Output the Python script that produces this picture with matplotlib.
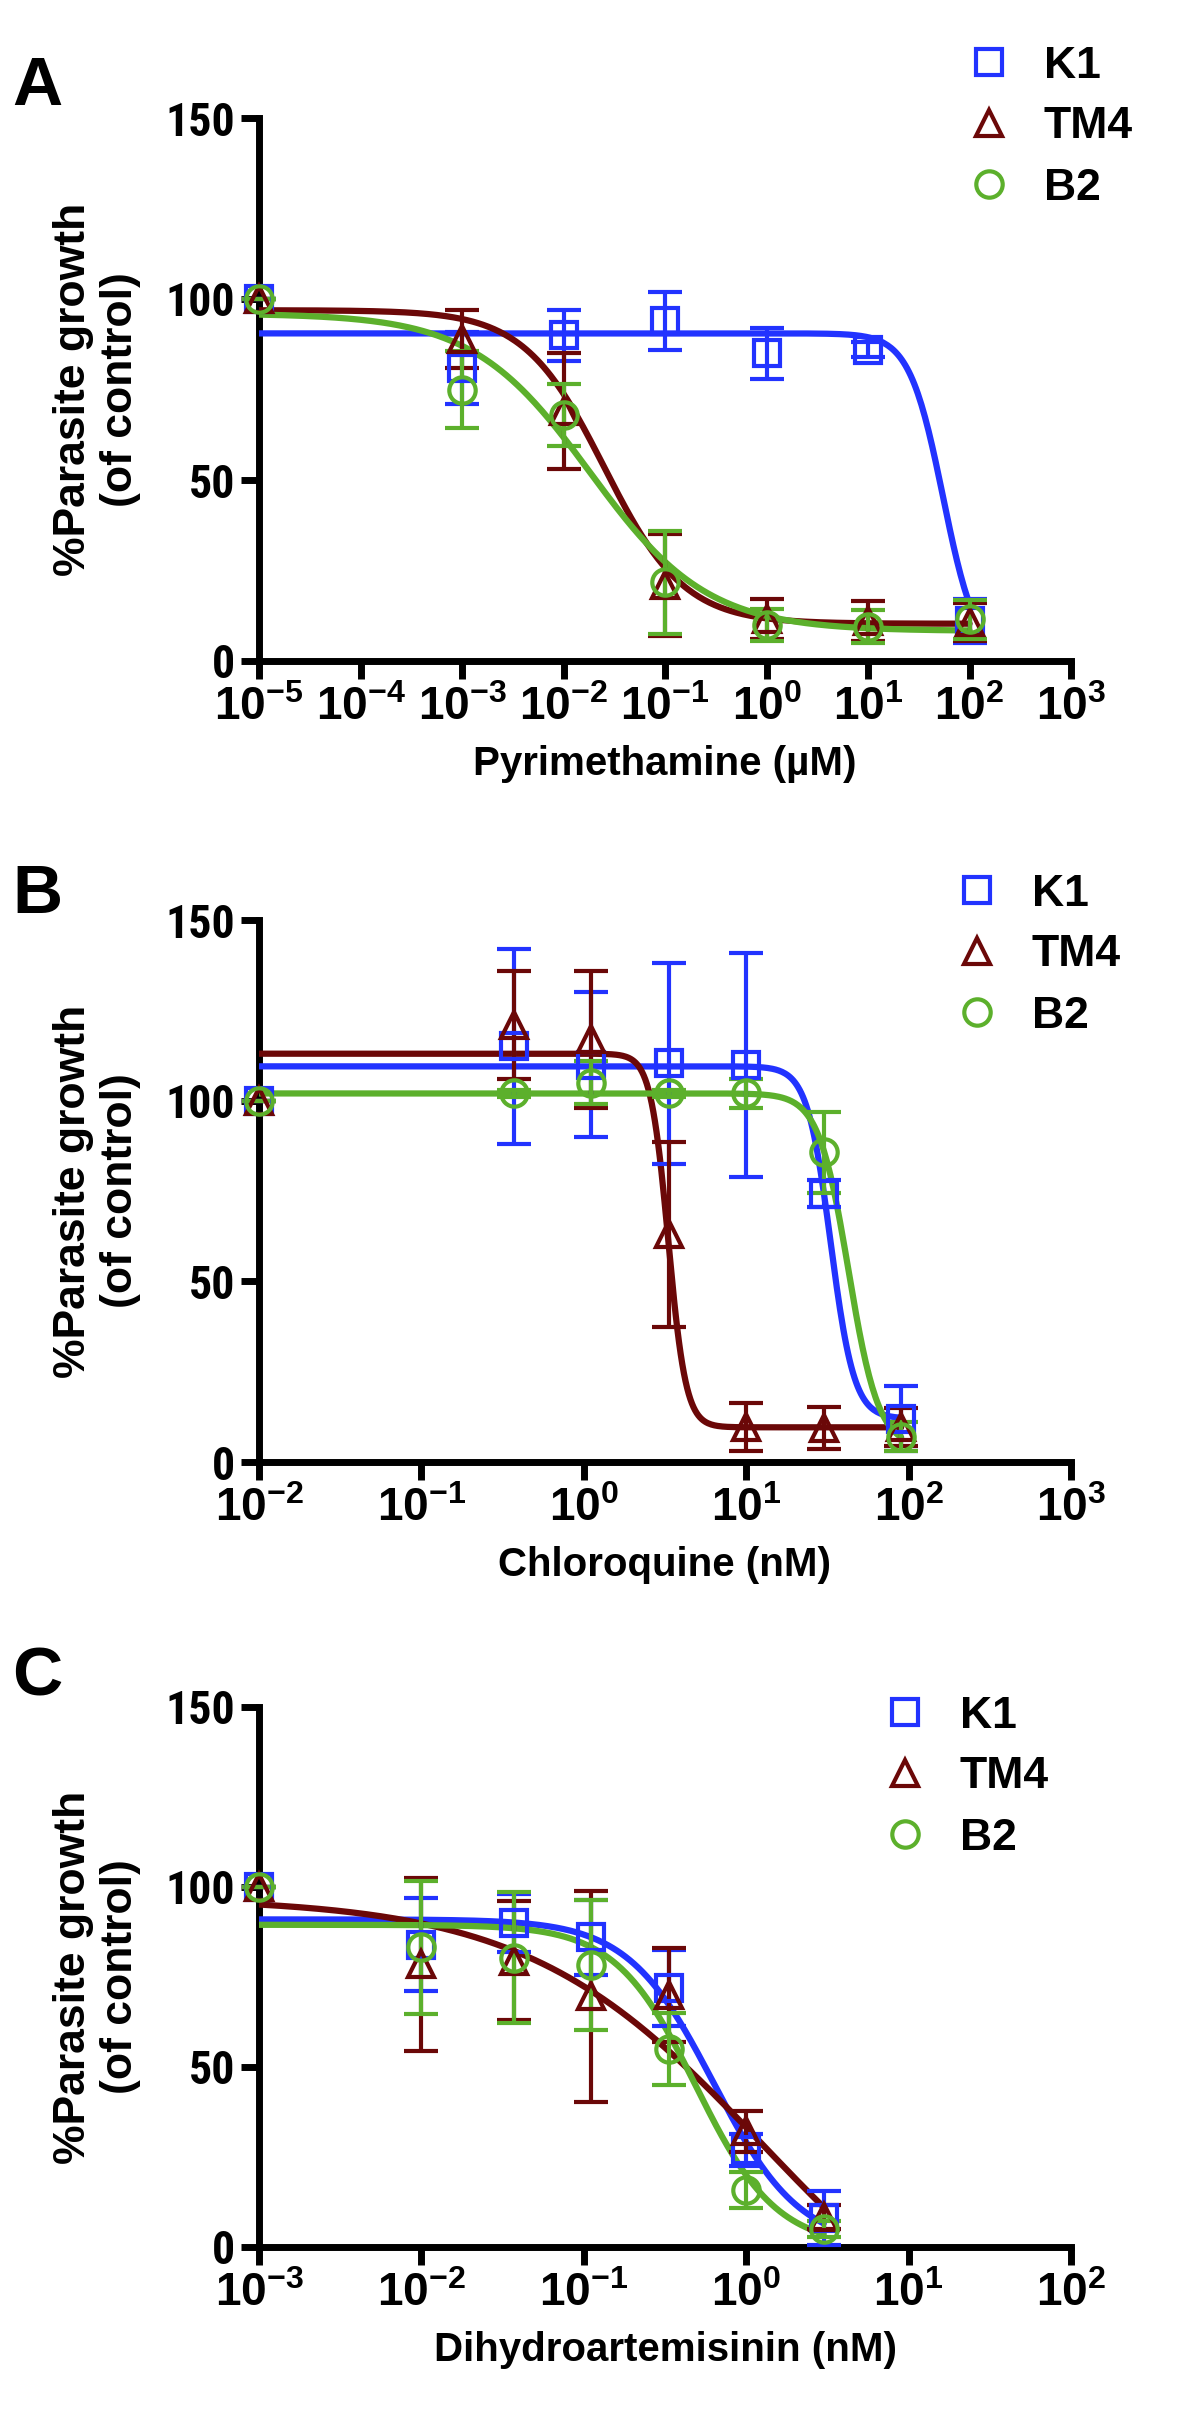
import numpy as np
import matplotlib
matplotlib.use("Agg")
import matplotlib.pyplot as plt
from matplotlib.ticker import LogLocator, NullLocator, FuncFormatter
from matplotlib.lines import Line2D

## fonts ##
narrow = 'Roboto Condensed'   # closest installed match to the narrow bold tick font
plt.rcParams['font.family'] = ['Liberation Sans', 'DejaVu Sans']
plt.rcParams['font.weight'] = 'bold'
plt.rcParams['mathtext.fontset'] = 'custom'
plt.rcParams['mathtext.rm'] = narrow + ':bold'
plt.rcParams['mathtext.default'] = 'regular'

## data ##
strains = ['K1', 'TM4', 'B2']
colors = ['#2233ff', '#6b0808', '#5cb02c']
markers = ['s', '^', 'o']

# panel A - pyrimethamine (uM)
pyr_x = [1e-5, 1e-3, 1e-2, 1e-1, 1, 10, 100]
pyr_k1 = [100, 81, 90, 94, 85, 86, 11]
pyr_k1_err = [0, 10, 7, 8, 7, 2, 6]
pyr_tm4 = [100, 89, 69, 21, 11.5, 11, 10.8]
pyr_tm4_err = [0, 8, 16, 14, 5.5, 5.5, 5.2]
pyr_b2 = [100, 75, 68, 21.7, 10, 9.5, 11.5]
pyr_b2_err = [0, 10.5, 8.5, 14.2, 4.5, 4.5, 5.3]
# fitted curves: top, bottom, logIC50, hill
pyr_fit = [(90.5, 0, 1.74, 2.6), (96.9, 10.3, -1.6, 1.1), (96, 8.3, -1.74, 0.75)]

# panel B - chloroquine (nM)
cq_x = [0.01, 0.37, 1.11, 3.33, 10, 30, 90]
cq_k1 = [100, 115, 110, 110.3, 110, 74.3, 12]
cq_k1_err = [0, 27, 20, 27.7, 31, 3.7, 9]
cq_tm4 = [100, 121, 117, 63, 9.7, 9.4, 9.6]
cq_tm4_err = [0, 15, 19, 25.5, 6.6, 5.9, 5.3]
cq_b2 = [100, 102, 105, 102, 102, 85.7, 7]
cq_b2_err = [0, 1, 6, 1, 4, 11.3, 4]
cq_fit = [(109.5, 12, 1.52, 6), (113, 9.6, 0.52, 8), (102, 4, 1.63, 4.7)]

# panel C - dihydroartemisinin (nM)
dha_x = [0.001, 0.01, 0.037, 0.111, 0.333, 1, 3]
dha_k1 = [100, 84, 90, 86, 72, 27, 8]
dha_k1_err = [0, 13, 8, 10.5, 10.5, 4.5, 7.5]
dha_tm4 = [100, 78.5, 79.5, 69.7, 70, 32.1, 8.3]
dha_tm4_err = [0, 24, 16.5, 29.3, 13, 5.6, 3.3]
dha_b2 = [100, 83.2, 80.4, 78.4, 54.9, 15.8, 4.9]
dha_b2_err = [0, 18.4, 18.1, 18, 10, 4.9, 2.2]
dha_fit = [(91, 0, -0.2, 1.64), (97, -40, 0.1, 0.6), (89.5, 0, -0.31, 1.75)]

panels = [
    ('A', 'Pyrimethamine (\u00b5M)', pyr_x, [pyr_k1, pyr_tm4, pyr_b2],
     [pyr_k1_err, pyr_tm4_err, pyr_b2_err], pyr_fit, (1e-5, 1e3), 100),
    ('B', 'Chloroquine (nM)', cq_x, [cq_k1, cq_tm4, cq_b2],
     [cq_k1_err, cq_tm4_err, cq_b2_err], cq_fit, (1e-2, 1e3), 90),
    ('C', 'Dihydroartemisinin (nM)', dha_x, [dha_k1, dha_tm4, dha_b2],
     [dha_k1_err, dha_tm4_err, dha_b2_err], dha_fit, (1e-3, 1e2), 3),
]

## layout (pixels of the 1200x2419 figure) ##
W, H = 1200, 2419
ax_left, ax_right = 259, 1071
ax_tops = [118, 920, 1707]
ax_bots = [661, 1462, 2247]
letter_base = [105, 913, 1695]
legend_pos = [(968, 127), (956, 955), (884, 1777)]


def four_pl(x, top, bottom, logic50, hill):
    return bottom + (top - bottom) / (1 + 10 ** (hill * (np.log10(x) - logic50)))


def tick_fmt(v, pos):
    e = int(round(np.log10(v)))
    return r'$\mathregular{10^{%d}}$' % e


fig = plt.figure(figsize=(W / 100, H / 100), dpi=100)

for i, (letter, xlabel, xs, means, errs, fits, xlim, xend) in enumerate(panels):
    t, b = ax_tops[i], ax_bots[i]
    ax = fig.add_axes([ax_left / W, 1 - b / H, (ax_right - ax_left) / W, (b - t) / H])
    xc = np.logspace(np.log10(xs[0]), np.log10(xend), 400)
    for j in range(3):
        ax.plot(xc, four_pl(xc, *fits[j]), color=colors[j], lw=4.5, zorder=3,
                solid_capstyle='round')
        ax.errorbar(xs, means[j], yerr=errs[j], fmt=markers[j], color=colors[j],
                    mfc='none', mec=colors[j], ms=19, mew=3, elinewidth=3,
                    capsize=12.5, capthick=3, zorder=4, clip_on=False)
    ax.set_xscale('log')
    ax.set_xlim(*xlim)
    ax.set_ylim(0, 150)
    ax.set_yticks([0, 50, 100, 150])
    ax.xaxis.set_major_locator(LogLocator(base=10, numticks=20))
    ax.xaxis.set_minor_locator(NullLocator())
    ax.xaxis.set_major_formatter(FuncFormatter(tick_fmt))
    for s in ['top', 'right']:
        ax.spines[s].set_visible(False)
    for s in ['left', 'bottom']:
        ax.spines[s].set_linewidth(5)
    ax.tick_params(direction='out', length=13, width=5, labelsize=33)
    ax.tick_params(axis='x', pad=5)
    ax.tick_params(axis='y', pad=4)
    for lab in ax.get_yticklabels():
        lab.set_family(narrow)
        lab.set_fontweight('bold')
    ax.set_xlabel(xlabel, fontsize=29, fontweight='bold')
    ax.xaxis.set_label_coords(0.5, -84 / (b - t))
    ax.text(-0.1995, 0.5, '%Parasite growth\n(of control)', transform=ax.transAxes,
            rotation=90, ha='center', va='center', ma='center', fontsize=32,
            fontweight='bold')
    fig.text(12 / W, 1 - letter_base[i] / H, letter, fontsize=50, fontweight='bold',
             ha='left', va='baseline')
    handles = [Line2D([], [], ls='none', marker=markers[j], color=colors[j], mfc='none',
                      ms=19, mew=3) for j in range(3)]
    lx, ly = legend_pos[i]
    ax.legend(handles, strains, loc='center left', bbox_to_anchor=(lx / W, 1 - ly / H),
              bbox_transform=fig.transFigure, frameon=False, fontsize=32,
              handlelength=0.95, handletextpad=0.75, labelspacing=0.45, borderpad=0,
              borderaxespad=0)

fig.savefig('out.png', dpi=100)
